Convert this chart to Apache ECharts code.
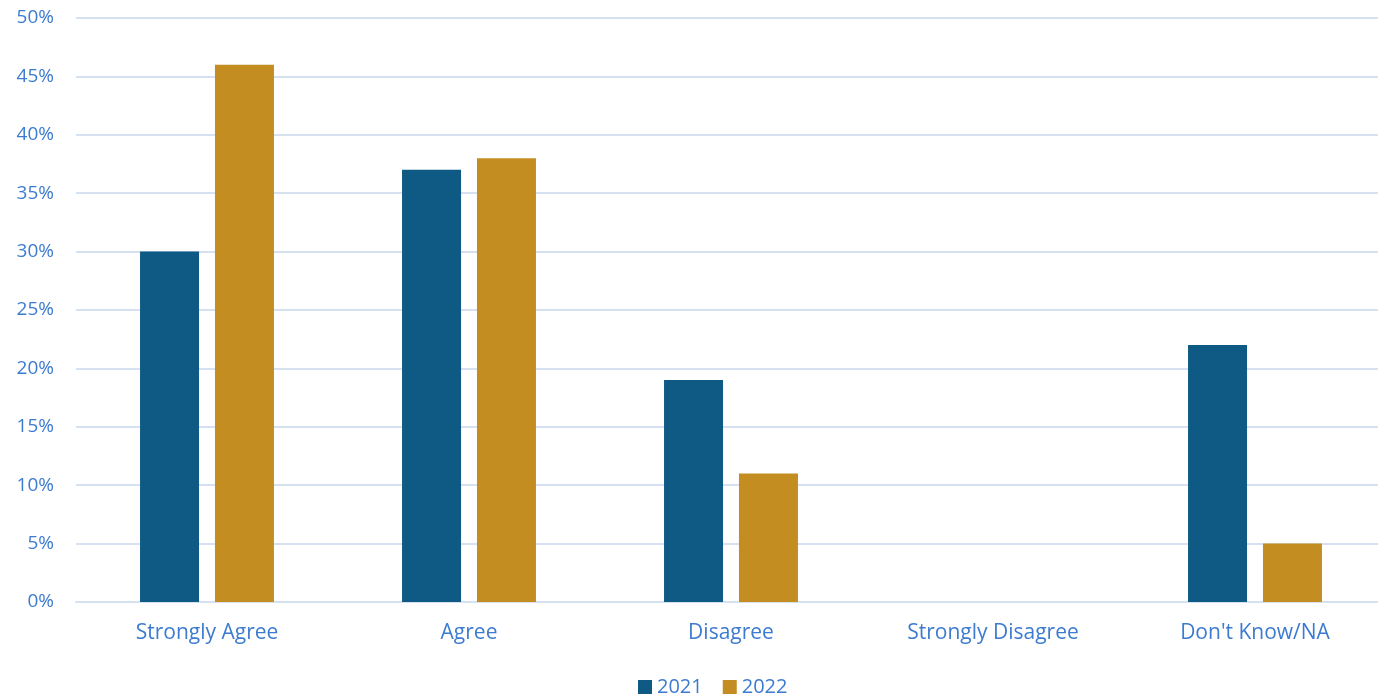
<!DOCTYPE html>
<html><head><meta charset="utf-8">
<script src="https://cdn.jsdelivr.net/npm/echarts@6/dist/echarts.min.js"></script>
<style>html,body{margin:0;padding:0;background:#fff;overflow:hidden}#c{width:1400px;height:697px}</style>
</head><body><div id="c"></div>
<script>
var categories = ["Strongly Agree", "Agree", "Disagree", "Strongly Disagree", "Don't Know/NA"];
var values2021 = [30, 37, 19, 0, 22];
var values2022 = [46, 38, 11, 0, 5];
var seriesNames = ["2021", "2022"];

var textColor = '#3C7BD0';
var font = 'Open Sans';
var chart = echarts.init(document.getElementById('c'), null, {renderer: 'canvas'});
chart.setOption({
  animation: false,
  backgroundColor: '#ffffff',
  grid: {left: 76, top: 18, width: 1310, height: 584, containLabel: false},
  legend: {
    bottom: -5, left: 633,
    itemWidth: 14, itemHeight: 14, itemGap: 20,
    icon: 'rect',
    textStyle: {color: textColor, fontSize: 20, fontFamily: font},
    data: seriesNames
  },
  xAxis: {
    type: 'category', data: categories,
    axisLine: {show: true, lineStyle: {color: '#D5E0F0', width: 2}},
    axisTick: {show: false},
    axisLabel: {color: textColor, fontSize: 21, fontFamily: font, margin: 21}
  },
  yAxis: {
    type: 'value', min: 0, max: 50, interval: 5,
    axisLine: {show: false}, axisTick: {show: false},
    splitLine: {lineStyle: {color: '#D5E0F0', width: 2}},
    axisLabel: {color: textColor, fontSize: 19, fontFamily: font, formatter: '{value}%', margin: 22}
  },
  series: [
    {name: seriesNames[0], type: 'bar', data: values2021, barWidth: 59, barGap: '27%',
     itemStyle: {color: '#0E5A84'}},
    {name: seriesNames[1], type: 'bar', data: values2022, barWidth: 59,
     itemStyle: {color: '#C38D22'}}
  ]
});
</script></body></html>
